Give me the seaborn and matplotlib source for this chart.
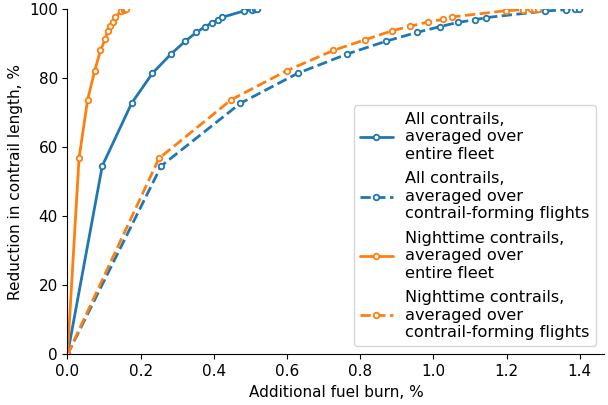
import numpy as np
import matplotlib
matplotlib.use("Agg")
import matplotlib.pyplot as plt
import seaborn as sns
import pandas as pd
sns.set_style("ticks", {'axes.edgecolor': 'black', 'text.color': 'black',
                        'axes.labelcolor': 'black', 'xtick.color': 'black',
                        'ytick.color': 'black'})
plt.rcParams['font.family'] = ['DejaVu Sans']

# All contrails, averaged over entire fleet
all_fleet_x = [0.0, 0.095, 0.175, 0.232, 0.283, 0.322, 0.352, 0.376, 0.395, 0.411, 0.423, 0.481, 0.504, 0.513, 0.518]
all_fleet_y = [0.0, 54.5, 72.6, 81.3, 86.9, 90.6, 93.1, 94.8, 95.9, 96.8, 97.5, 99.3, 99.7, 99.9, 99.95]

# All contrails, averaged over contrail-forming flights
all_forming_x = [0.0, 0.256, 0.472, 0.629, 0.765, 0.871, 0.954, 1.018, 1.066, 1.114, 1.144, 1.305, 1.361, 1.386, 1.397]
all_forming_y = [0.0, 54.5, 72.6, 81.3, 86.9, 90.6, 93.1, 94.8, 96.0, 96.8, 97.4, 99.3, 99.7, 99.9, 99.95]

# Nighttime contrails, averaged over entire fleet
night_fleet_x = [0.0, 0.0315, 0.055, 0.0745, 0.090, 0.103, 0.110, 0.116, 0.124, 0.130, 0.147, 0.155, 0.158, 0.160]
night_fleet_y = [0.0, 56.7, 73.7, 82.1, 87.9, 91.1, 93.6, 95.0, 96.2, 97.5, 99.3, 99.7, 99.9, 100.0]

# Nighttime contrails, averaged over contrail-forming flights
night_forming_x = [0.0, 0.250, 0.448, 0.600, 0.726, 0.813, 0.887, 0.936, 0.984, 1.026, 1.052, 1.197, 1.246, 1.267, 1.276, 1.285]
night_forming_y = [0.0, 56.7, 73.7, 82.1, 87.9, 91.0, 93.6, 94.9, 96.1, 96.9, 97.6, 99.4, 99.7, 99.9, 99.95, 100.0]

blue = '#1f77b4'
orange = '#ff7f0e'

series = [
    (all_fleet_x, all_fleet_y, blue, '-', 'All contrails,\naveraged over\nentire fleet'),
    (all_forming_x, all_forming_y, blue, '--', 'All contrails,\naveraged over\ncontrail-forming flights'),
    (night_fleet_x, night_fleet_y, orange, '-', 'Nighttime contrails,\naveraged over\nentire fleet'),
    (night_forming_x, night_forming_y, orange, '--', 'Nighttime contrails,\naveraged over\ncontrail-forming flights'),
]

fig = plt.figure(figsize=(6.08, 4.05), dpi=100)
ax = fig.add_axes([0.111, 0.1247, 0.883, 0.854])

for xs, ys, col, ls, lab in series:
    df = pd.DataFrame({'x': xs, 'y': ys})
    sns.lineplot(data=df, x='x', y='y', ax=ax, color=col, linestyle=ls, linewidth=2,
                 marker='o', markersize=4, markerfacecolor='white', markeredgecolor=col,
                 markeredgewidth=1.3, estimator=None, sort=False, label=lab)

ax.set_xlim(0, 1.467)
ax.set_ylim(0, 100)
ax.set_xlabel('Additional fuel burn, %', fontsize=11)
ax.set_ylabel('Reduction in contrail length, %', fontsize=11)
ax.tick_params(axis='both', which='major', labelsize=11)
sns.despine(ax=ax)
ax.legend(loc='lower right', fontsize=11.6, labelspacing=0.6)
plt.savefig('out.png', dpi=100)
